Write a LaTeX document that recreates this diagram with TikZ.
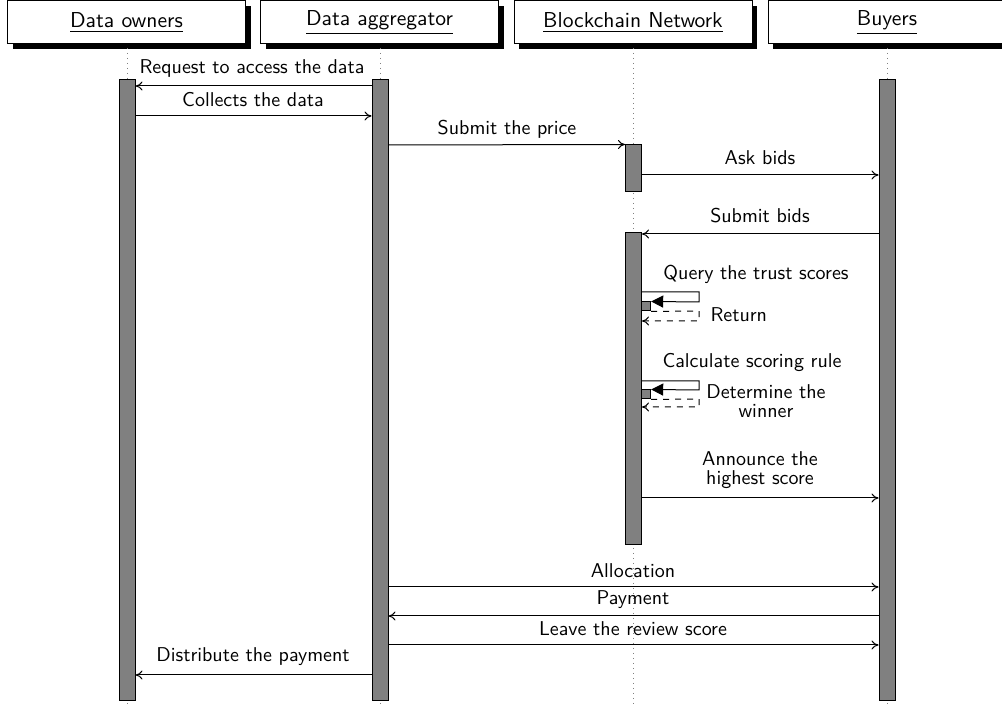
\documentclass[tikz,border=0pt]{standalone}
\usetikzlibrary{arrows.meta,shadows,fit}
\begin{document}
\begin{tikzpicture}[x=0.5pt,y=-0.5pt,
  font=\sffamily,
  line width=0.5pt,
  head/.style={draw, fill=white, minimum width=119pt, minimum height=21.5pt,
    inner sep=0pt, font=\sffamily\fontsize{10.8}{13}\selectfont,
    drop shadow={shadow xshift=2.5pt, shadow yshift=-2.75pt, fill=black, opacity=1}},
  life/.style={gray, dotted},
  actbar/.style={draw, fill=gray, inner sep=0pt},
  msg/.style={-{To[length=3.5pt,width=4.5pt]}},
  reply/.style={msg, dashed},
  selfcall/.style={-{Triangle[length=6pt,width=6pt]}},
  lbl/.style={anchor=base, inner sep=0pt, align=center},
  lbltwo/.style={lbl, font=\sffamily\fontsize{10}{9.5}\selectfont},
]
\useasboundingbox (0,0) rectangle (1002,704);

% participants
\node[head] (hown) at (126.5,22.5) {\underline{Data owners}};
\node[head] (hagg) at (379.5,22.5) {\underline{Data aggregator}};
\node[head] (hbc)  at (633,22.5)   {\underline{Blockchain Network}};
\node[head] (hbuy) at (887,22.5)   {\underline{Buyers}};

% lifelines
\draw[life] (127,48) -- (127,704);
\draw[life] (380,48) -- (380,704);
\draw[life] (633.5,48) -- (633.5,704);
\draw[life] (887,48) -- (887,704);

% activation bars
\node[actbar, fit={(119,80) (135,701)}] (ownbar) {};
\node[actbar, fit={(372,80) (388,701)}] (aggbar) {};
\node[actbar, fit={(879,80) (895,701)}] (buybar) {};
\node[actbar, fit={(625.5,145) (641.5,192)}] (bcbarA) {};
\node[actbar, fit={(625.5,233) (641.5,545)}] (bcbarB) {};

% messages between owners and aggregator
\draw[msg] (aggbar.west |- 0,86) -- (ownbar.east |- 0,86);
\node[lbl] (l1) at (252,74) {Request to access the data};
\draw[msg] (ownbar.east |- 0,116) -- (aggbar.west |- 0,116);
\node[lbl] (l2) at (253,107) {Collects the data};

% price submission and bidding
\draw[msg] (aggbar.east |- 0,145) -- (bcbarA.north west);
\node[lbl] (l3) at (507,135) {Submit the price};
\draw[msg] (bcbarA.east |- 0,175) -- (buybar.west |- 0,175);
\node[lbl] (l4) at (760,165) {Ask bids};
\draw[msg] (buybar.west |- 0,234) -- (bcbarB.east |- 0,234);
\node[lbl] (l5) at (760,223) {Submit bids};

% self call: trust scores
\node[lbl] (l6) at (756,280) {Query the trust scores};
\node[actbar, fit={(641.5,302) (650.7,311)}] (qbar) {};
\draw[selfcall] (bcbarB.east |- 0,292) -- (699,292) -- (699,302) -- (qbar.north east);
\draw[reply] (qbar.south east) -- (699,311) -- (699,321) -- (bcbarB.east |- 0,321);
\node[lbl, anchor=base west] (l7) at (710,322) {Return};

% self call: scoring rule
\node[lbl] (l8) at (752,368) {Calculate scoring rule};
\node[actbar, fit={(641.5,390) (650.7,399)}] (sbar) {};
\draw[selfcall] (bcbarB.east |- 0,381) -- (699,381) -- (699,390) -- (sbar.north east);
\draw[reply] (sbar.south east) -- (699,399) -- (699,407) -- (bcbarB.east |- 0,407);
\node[lbltwo] (l9) at (766,418) {Determine the\\winner};

% announcement
\draw[msg] (bcbarB.east |- 0,498) -- (buybar.west |- 0,498);
\node[lbltwo] (l10) at (760,485) {Announce the\\highest score};

% allocation and payment
\draw[msg] (aggbar.east |- 0,587) -- (buybar.west |- 0,587);
\node[lbl] (l11) at (633,578) {Allocation};
\draw[msg] (buybar.west |- 0,616) -- (aggbar.east |- 0,616);
\node[lbl] (l12) at (633,605) {Payment};
\draw[msg] (aggbar.east |- 0,645) -- (buybar.west |- 0,645);
\node[lbl] (l13) at (633,636) {Leave the review score};
\draw[msg] (aggbar.west |- 0,675) -- (ownbar.east |- 0,675);
\node[lbl] (l14) at (253,662) {Distribute the payment};
\end{tikzpicture}
\end{document}
